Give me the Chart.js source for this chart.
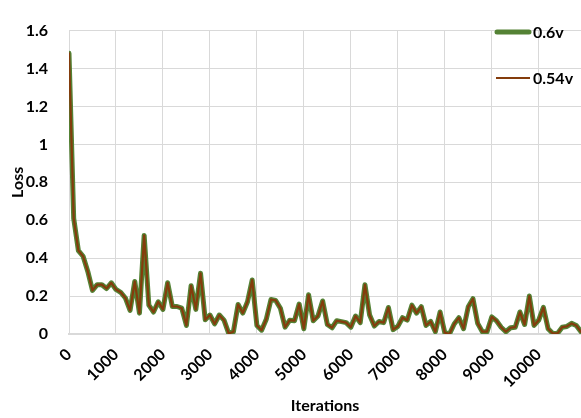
<!DOCTYPE html>
<html>
<head>
<meta charset="utf-8">
<script src="https://cdn.jsdelivr.net/npm/chart.js@4.4.1/dist/chart.umd.min.js"></script>
<style>
  html, body { margin: 0; padding: 0; background: #fff; }
  #wrap { width: 581px; height: 418px; }
</style>
</head>
<body>
<div id="wrap"><canvas id="lossChart" width="581" height="418"></canvas></div>
<script>
const iterations = [
  0, 100, 200, 300, 400, 500, 600, 700, 800, 900,
  1000, 1100, 1200, 1300, 1400, 1500, 1600, 1700, 1800, 1900,
  2000, 2100, 2200, 2300, 2400, 2500, 2600, 2700, 2800, 2900,
  3000, 3100, 3200, 3300, 3400, 3500, 3600, 3700, 3800, 3900,
  4000, 4100, 4200, 4300, 4400, 4500, 4600, 4700, 4800, 4900,
  5000, 5100, 5200, 5300, 5400, 5500, 5600, 5700, 5800, 5900,
  6000, 6100, 6200, 6300, 6400, 6500, 6600, 6700, 6800, 6900,
  7000, 7100, 7200, 7300, 7400, 7500, 7600, 7700, 7800, 7900,
  8000, 8100, 8200, 8300, 8400, 8500, 8600, 8700, 8800, 8900,
  9000, 9100, 9200, 9300, 9400, 9500, 9600, 9700, 9800, 9900,
  10000, 10100, 10200, 10300, 10400, 10500, 10600, 10700, 10800, 10900
];

const loss06v = [
  1.48, 0.61, 0.44, 0.41, 0.33, 0.23, 0.26, 0.26, 0.24, 0.27,
  0.235, 0.22, 0.19, 0.125, 0.277, 0.11, 0.52, 0.152, 0.116, 0.17,
  0.13, 0.27, 0.145, 0.145, 0.136, 0.045, 0.255, 0.13, 0.32, 0.075,
  0.10, 0.053, 0.10, 0.073, 0.003, 0.012, 0.156, 0.11, 0.17, 0.285,
  0.045, 0.02, 0.078, 0.182, 0.177, 0.136, 0.036, 0.073, 0.07, 0.158,
  0.028, 0.207, 0.07, 0.095, 0.174, 0.05, 0.033, 0.07, 0.065, 0.06,
  0.036, 0.095, 0.06, 0.26, 0.10, 0.042, 0.066, 0.06, 0.14, 0.023,
  0.04, 0.086, 0.073, 0.152, 0.11, 0.144, 0.045, 0.066, 0.012, 0.116,
  0.007, 0.0, 0.053, 0.086, 0.028, 0.144, 0.186, 0.056, 0.012, 0.012,
  0.09, 0.07, 0.036, 0.012, 0.033, 0.036, 0.116, 0.05, 0.2, 0.045,
  0.073, 0.14, 0.028, 0.003, 0.003, 0.036, 0.04, 0.056, 0.045, 0.012
];

const loss054v = [
  1.48, 0.61, 0.44, 0.41, 0.33, 0.23, 0.26, 0.26, 0.24, 0.27,
  0.235, 0.22, 0.19, 0.125, 0.277, 0.11, 0.52, 0.152, 0.116, 0.17,
  0.13, 0.27, 0.145, 0.145, 0.136, 0.045, 0.255, 0.13, 0.32, 0.075,
  0.10, 0.053, 0.10, 0.073, 0.003, 0.012, 0.156, 0.11, 0.17, 0.285,
  0.045, 0.02, 0.078, 0.182, 0.177, 0.136, 0.036, 0.073, 0.07, 0.158,
  0.028, 0.207, 0.07, 0.095, 0.174, 0.05, 0.033, 0.07, 0.065, 0.06,
  0.036, 0.095, 0.06, 0.26, 0.10, 0.042, 0.066, 0.06, 0.14, 0.023,
  0.04, 0.086, 0.073, 0.152, 0.11, 0.144, 0.045, 0.066, 0.012, 0.116,
  0.007, 0.0, 0.053, 0.086, 0.028, 0.144, 0.186, 0.056, 0.012, 0.012,
  0.09, 0.07, 0.036, 0.012, 0.033, 0.036, 0.116, 0.05, 0.2, 0.045,
  0.073, 0.14, 0.028, 0.003, 0.003, 0.036, 0.04, 0.056, 0.045, 0.012
];

const seriesNames = ['0.6v', '0.54v'];
const xTicks = [0, 1000, 2000, 3000, 4000, 5000, 6000, 7000, 8000, 9000, 10000];
const xMax = 10900;
const yTicks = [0, 0.2, 0.4, 0.6, 0.8, 1, 1.2, 1.4, 1.6];

const FONT = 'Lato, "Open Sans", sans-serif';

function toPoints(values) {
  return iterations.map((it, i) => ({ x: it, y: values[i] }));
}

// legend drawn by hand so it can sit over the plot like the Excel one
const sideLegend = {
  id: 'sideLegend',
  afterDatasetsDraw(chart) {
    const ctx = chart.ctx;
    const rows = [32, 78];
    chart.data.datasets.forEach((ds, i) => {
      const y = rows[i];
      ctx.save();
      ctx.strokeStyle = ds.borderColor;
      ctx.lineWidth = ds.borderWidth;
      ctx.lineCap = i === 0 ? 'round' : 'butt';
      ctx.beginPath();
      ctx.moveTo(i === 0 ? 497 : 496, y);
      ctx.lineTo(i === 0 ? 529 : 530, y);
      ctx.stroke();
      ctx.fillStyle = '#000';
      ctx.font = `bold 16px ${FONT}`;
      ctx.textAlign = 'left';
      ctx.textBaseline = 'middle';
      ctx.fillText(ds.label, 533, y + 1);
      ctx.restore();
    });
  }
};

const ctx = document.getElementById('lossChart').getContext('2d');
const lossChart = new Chart(ctx, {
  type: 'line',
  data: {
    datasets: [
      {
        label: seriesNames[0],
        data: toPoints(loss06v),
        borderColor: '#548235',
        borderWidth: 5,
        order: 1
      },
      {
        label: seriesNames[1],
        data: toPoints(loss054v),
        borderColor: '#843C0C',
        borderWidth: 2.2,
        order: 0
      }
    ]
  },
  options: {
    responsive: false,
    animation: false,
    devicePixelRatio: 1,
    layout: { padding: { top: 12, right: 0, left: 0, bottom: 0 } },
    elements: {
      point: { radius: 0 },
      line: { tension: 0, borderJoinStyle: 'round', borderCapStyle: 'round' }
    },
    plugins: {
      legend: { display: false },
      tooltip: { enabled: false }
    },
    scales: {
      x: {
        type: 'linear',
        min: 0,
        max: xMax,
        afterBuildTicks: axis => {
          axis.ticks = xTicks.map(v => ({ value: v }));
        },
        afterFit: axis => { axis.height = 84; },
        ticks: {
          autoSkip: false,
          minRotation: 45,
          maxRotation: 45,
          padding: 11,
          color: '#000',
          font: { family: FONT, size: 16, weight: 'bold' },
          callback: v => String(v)
        },
        grid: { color: '#d9d9d9', drawTicks: false },
        border: { color: '#d9d9d9', width: 2 },
        title: {
          display: true,
          text: 'Iterations',
          color: '#000',
          font: { family: FONT, size: 16, weight: 'bold' },
          padding: { top: 2, bottom: 3 }
        }
      },
      y: {
        min: 0,
        max: 1.6,
        afterBuildTicks: axis => {
          axis.ticks = yTicks.map(v => ({ value: v }));
        },
        afterFit: axis => { axis.width = 69; },
        ticks: {
          padding: 21,
          color: '#000',
          font: { family: FONT, size: 16, weight: 'bold' },
          callback: v => String(Math.round(v * 10) / 10)
        },
        grid: { color: '#d9d9d9', drawTicks: false },
        border: { display: false },
        title: {
          display: true,
          text: 'Loss',
          color: '#000',
          font: { family: FONT, size: 16, weight: 'bold' },
          padding: { top: 8, bottom: 0 }
        }
      }
    }
  },
  plugins: [sideLegend]
});
</script>
</body>
</html>
